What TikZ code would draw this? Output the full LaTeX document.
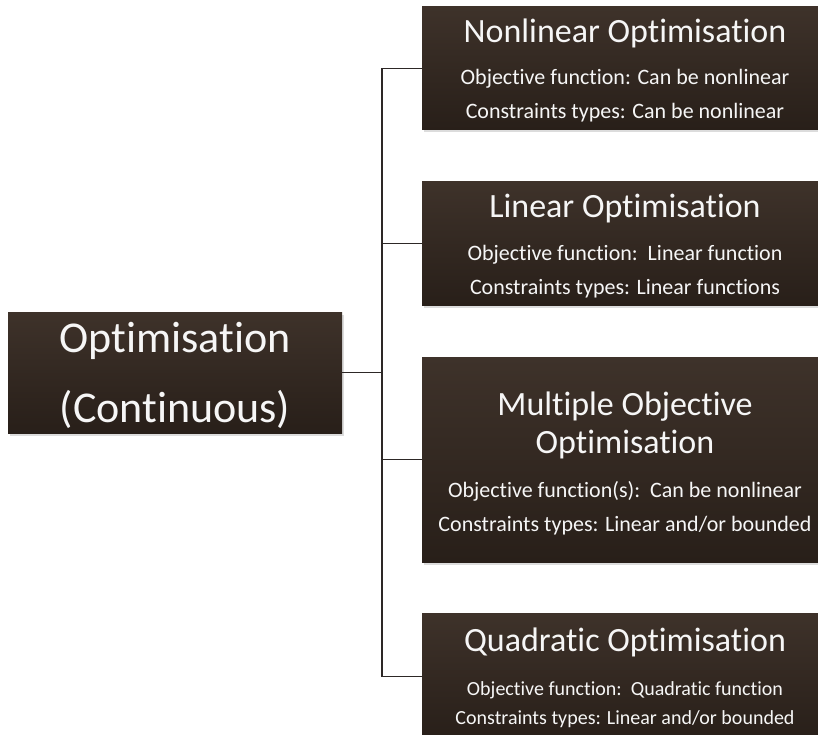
\documentclass[tikz,border=0pt]{standalone}
\usepackage{fontspec}
\setmainfont[RawFeature={-liga;-clig;-dlig;-calt;-rlig}]{Carlito}
\usetikzlibrary{shadows}

\definecolor{boxtop}{RGB}{62,50,42}
\definecolor{boxbot}{RGB}{40,31,25}
\definecolor{linkcol}{RGB}{45,40,38}
\definecolor{txt}{RGB}{246,246,246}

\tikzset{
  box/.style={rectangle, inner sep=0pt, top color=boxtop, bottom color=boxbot,
    draw=none, drop shadow={shadow xshift=1.5pt, shadow yshift=-2.5pt, opacity=0.28}},
  rootfont/.style={font=\fontsize{44}{52}\selectfont},
  headfont/.style={font=\fontsize{34}{40}\selectfont},
  subfont/.style={font=\fontsize{22}{26}\selectfont},
  smallsub/.style={font=\fontsize{20}{24}\selectfont},
  label/.style={text=txt, inner sep=0pt, anchor=base},
  link/.style={draw=linkcol, line width=1.6pt}
}

\begin{document}
\begin{tikzpicture}[x=1pt,y=-1pt]
\useasboundingbox (0,0) rectangle (818,735);

% boxes
\node[box, minimum width=334pt, minimum height=121pt] (root) at (175,372.5) {};
\node[box, minimum width=408pt, minimum height=123pt] (nonlin) at (626,68.5) {};
\node[box, minimum width=408pt, minimum height=123pt] (lin) at (626,243.5) {};
\node[box, minimum width=408pt, minimum height=205pt] (multi) at (626,459.5) {};
\node[box, minimum width=408pt, minimum height=127pt] (quad) at (626,676.5) {};

% tree connectors
\coordinate (trunk) at (382,372.5);
\draw[link] (root.east) -- (trunk);
\draw[link] (nonlin.west) -| (trunk) |- (quad.west);
\draw[link] (lin.west) -- (lin.west -| trunk);
\draw[link] (multi.west) -- (multi.west -| trunk);

% root text
\node[label, rootfont] (r1) at (175,352) {Optimisation};
\node[label, rootfont] (r2) at (175,422) {(Continuous)};

% nonlinear
\node[label, headfont] (n1) at (625,43) {Nonlinear Optimisation};
\node[label, subfont] (n2) at (625,85) {Objective function: Can be nonlinear};
\node[label, subfont] (n3) at (625,119) {Constraints types: Can be nonlinear};

% linear
\node[label, headfont] (l1) at (625,218) {Linear Optimisation};
\node[label, subfont] (l2) at (625,260) {Objective function:\ \ Linear function};
\node[label, subfont] (l3) at (625,294) {Constraints types: Linear functions};

% multiple objective
\node[label, headfont] (m1) at (625,415) {Multiple Objective};
\node[label, headfont] (m2) at (625,453) {Optimisation};
\node[label, subfont] (m3) at (625,497) {Objective function(s):\ \ Can be nonlinear};
\node[label, subfont] (m4) at (625,531) {Constraints types: Linear and/or bounded};

% quadratic
\node[label, headfont] (q1) at (625,651) {Quadratic Optimisation};
\node[label, smallsub] (q2) at (625,695) {Objective function:\ \ Quadratic function};
\node[label, smallsub] (q3) at (625,724) {Constraints types: Linear and/or bounded};
\end{tikzpicture}
\end{document}
